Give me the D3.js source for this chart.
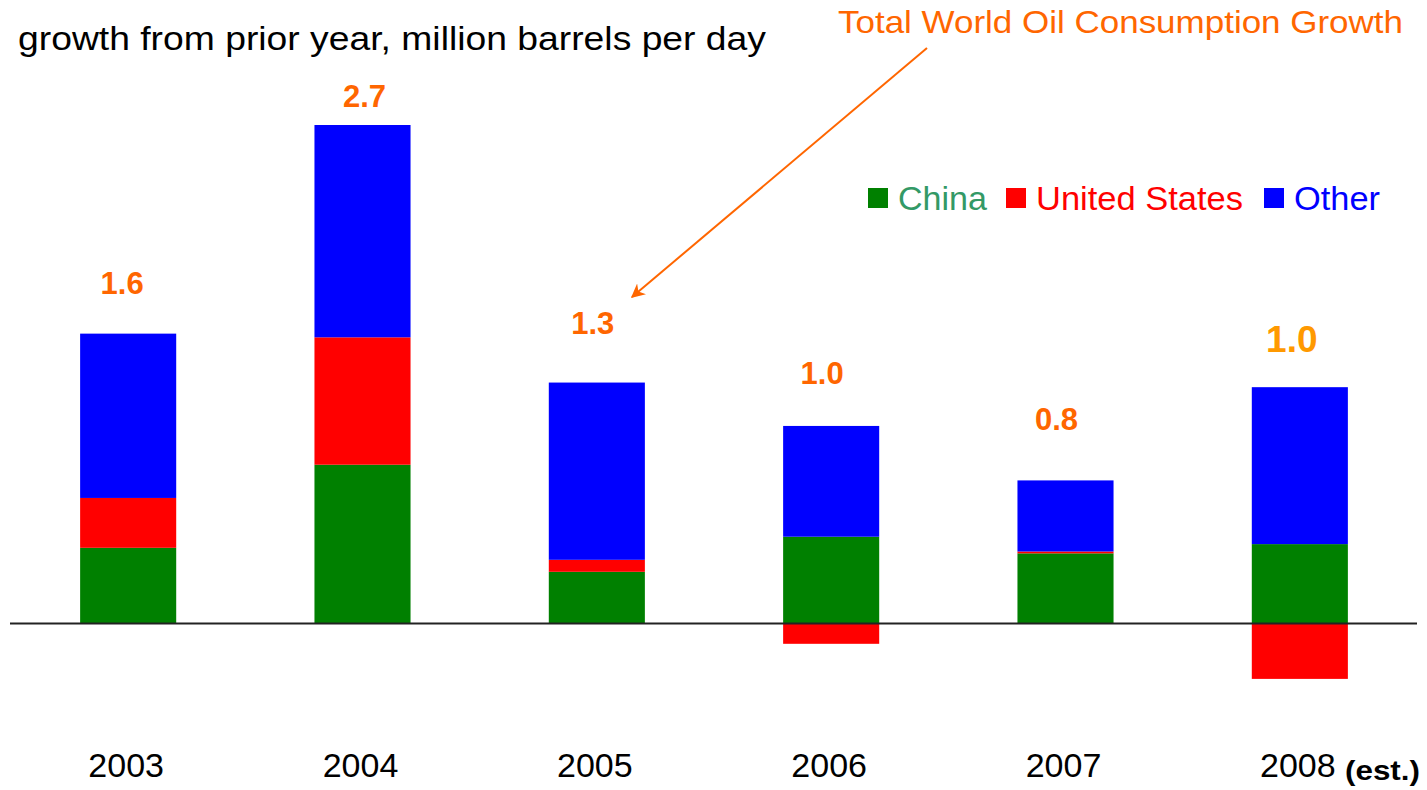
<!DOCTYPE html>
<html>
<head>
<meta charset="utf-8">
<script src="https://cdnjs.cloudflare.com/ajax/libs/d3/7.8.5/d3.min.js"></script>
<style>
  body { margin: 0; background: #fff; }
  text { font-family: Arial, "Liberation Sans", sans-serif; }
</style>
</head>
<body>
<div id="chart"></div>
<script>
// data, million barrels per day growth
var years = ["2003", "2004", "2005", "2006", "2007", "2008"];
var china = [0.41, 0.86, 0.28, 0.47, 0.38, 0.43];
var unitedStates = [0.27, 0.69, 0.065, -0.11, 0.01, -0.30];
var other = [0.89, 1.15, 0.96, 0.60, 0.385, 0.85];
var totalLabels = ["1.6", "2.7", "1.3", "1.0", "0.8", "1.0"];

var seriesNames = ["China", "United States", "Other"];
var seriesColors = ["#008000", "#ff0000", "#0000ff"];
var legendTextColors = ["#339966", "#ff0000", "#0000ff"];

// how far each total label sits above its bar (px), and its nudge left
var labelGap = [50, 28, 59, 52, 60, 45];
var labelShift = [-6, 2, -4, -9, -9, -8];

var W = 1427, H = 790;

var rows = years.map(function(y, i) {
  return { year: y, "China": china[i], "United States": unitedStates[i], "Other": other[i] };
});

var stack = d3.stack().keys(seriesNames).offset(d3.stackOffsetDiverging);
var layers = stack(rows);

var x = d3.scaleBand()
  .domain(years)
  .range([11, 1417])
  .paddingInner(0.59)
  .paddingOuter(0.295);

var y = d3.scaleLinear()
  .domain([0, 2.7])
  .range([623.5, 125]);

var svg = d3.select("#chart").append("svg")
  .attr("width", W).attr("height", H);

// stacked bars
svg.selectAll("g.layer")
  .data(layers)
  .enter().append("g")
  .attr("class", "layer")
  .attr("fill", function(d, i) { return seriesColors[i]; })
  .selectAll("rect")
  .data(function(d) { return d; })
  .enter().append("rect")
  .attr("x", function(d) { return x(d.data.year); })
  .attr("width", x.bandwidth())
  .attr("y", function(d) { return y(Math.max(d[0], d[1])); })
  .attr("height", function(d) { return Math.abs(y(d[0]) - y(d[1])); });

// zero line
svg.append("line")
  .attr("x1", 10).attr("x2", 1417)
  .attr("y1", y(0)).attr("y2", y(0))
  .attr("stroke", "#222").attr("stroke-width", 2);

// total labels
var tops = rows.map(function(r) {
  return d3.sum(seriesNames, function(k) { return Math.max(0, r[k]); });
});
svg.selectAll("text.total")
  .data(years)
  .enter().append("text")
  .attr("class", "total")
  .attr("x", function(d, i) { return x(d) + x.bandwidth() / 2 + labelShift[i]; })
  .attr("y", function(d, i) { return y(tops[i]) - labelGap[i] + 10; })
  .attr("text-anchor", "middle")
  .attr("font-weight", "bold")
  .attr("font-size", function(d, i) { return i === years.length - 1 ? 37 : 31; })
  .attr("fill", function(d, i) { return i === years.length - 1 ? "#ff9900" : "#ff6600"; })
  .text(function(d, i) { return totalLabels[i]; });

// x axis year labels
var xAxis = d3.axisBottom(x).tickSize(0).tickPadding(0);
var axisG = svg.append("g")
  .attr("transform", "translate(-2,777)")
  .call(xAxis);
axisG.select(".domain").remove();
axisG.selectAll("text")
  .attr("font-size", 34)
  .attr("fill", "#000")
  .attr("dy", 0)
  .style("font-family", "Arial, 'Liberation Sans', sans-serif");

svg.append("text")
  .attr("x", 1345).attr("y", 780)
  .attr("font-size", 27).attr("font-weight", "bold")
  .attr("textLength", 75).attr("lengthAdjust", "spacingAndGlyphs")
  .text("(est.)");

// title
svg.append("text")
  .attr("x", 18).attr("y", 50)
  .attr("font-size", 33)
  .attr("fill", "#000")
  .attr("textLength", 748).attr("lengthAdjust", "spacingAndGlyphs")
  .text("growth from prior year, million barrels per day");

// annotation + arrow
svg.append("defs").append("marker")
  .attr("id", "arrowhead")
  .attr("viewBox", "0 0 10 10")
  .attr("refX", 9).attr("refY", 5)
  .attr("markerWidth", 7).attr("markerHeight", 7)
  .attr("orient", "auto")
  .append("path")
  .attr("d", "M0,0 L10,5 L0,10 L3,5 Z")
  .attr("fill", "#ff6600");

svg.append("text")
  .attr("x", 838).attr("y", 33)
  .attr("font-size", 32)
  .attr("fill", "#ff6600")
  .attr("textLength", 565).attr("lengthAdjust", "spacingAndGlyphs")
  .text("Total World Oil Consumption Growth");

svg.append("line")
  .attr("x1", 927).attr("y1", 48)
  .attr("x2", 632).attr("y2", 297)
  .attr("stroke", "#ff6600").attr("stroke-width", 2)
  .attr("marker-end", "url(#arrowhead)");

// legend
var legend = svg.append("g").attr("transform", "translate(868,188)");
var legX = [0, 138, 396];
var legW = [89, 207, 86];
var leg = legend.selectAll("g")
  .data(seriesNames)
  .enter().append("g")
  .attr("transform", function(d, i) { return "translate(" + legX[i] + ",0)"; });
leg.append("rect")
  .attr("width", 20).attr("height", 20)
  .attr("fill", function(d, i) { return seriesColors[i]; });
leg.append("text")
  .attr("x", 30).attr("y", 22)
  .attr("font-size", 33)
  .attr("fill", function(d, i) { return legendTextColors[i]; })
  .attr("textLength", function(d, i) { return legW[i]; })
  .attr("lengthAdjust", "spacingAndGlyphs")
  .text(function(d) { return d; });
</script>
</body>
</html>
